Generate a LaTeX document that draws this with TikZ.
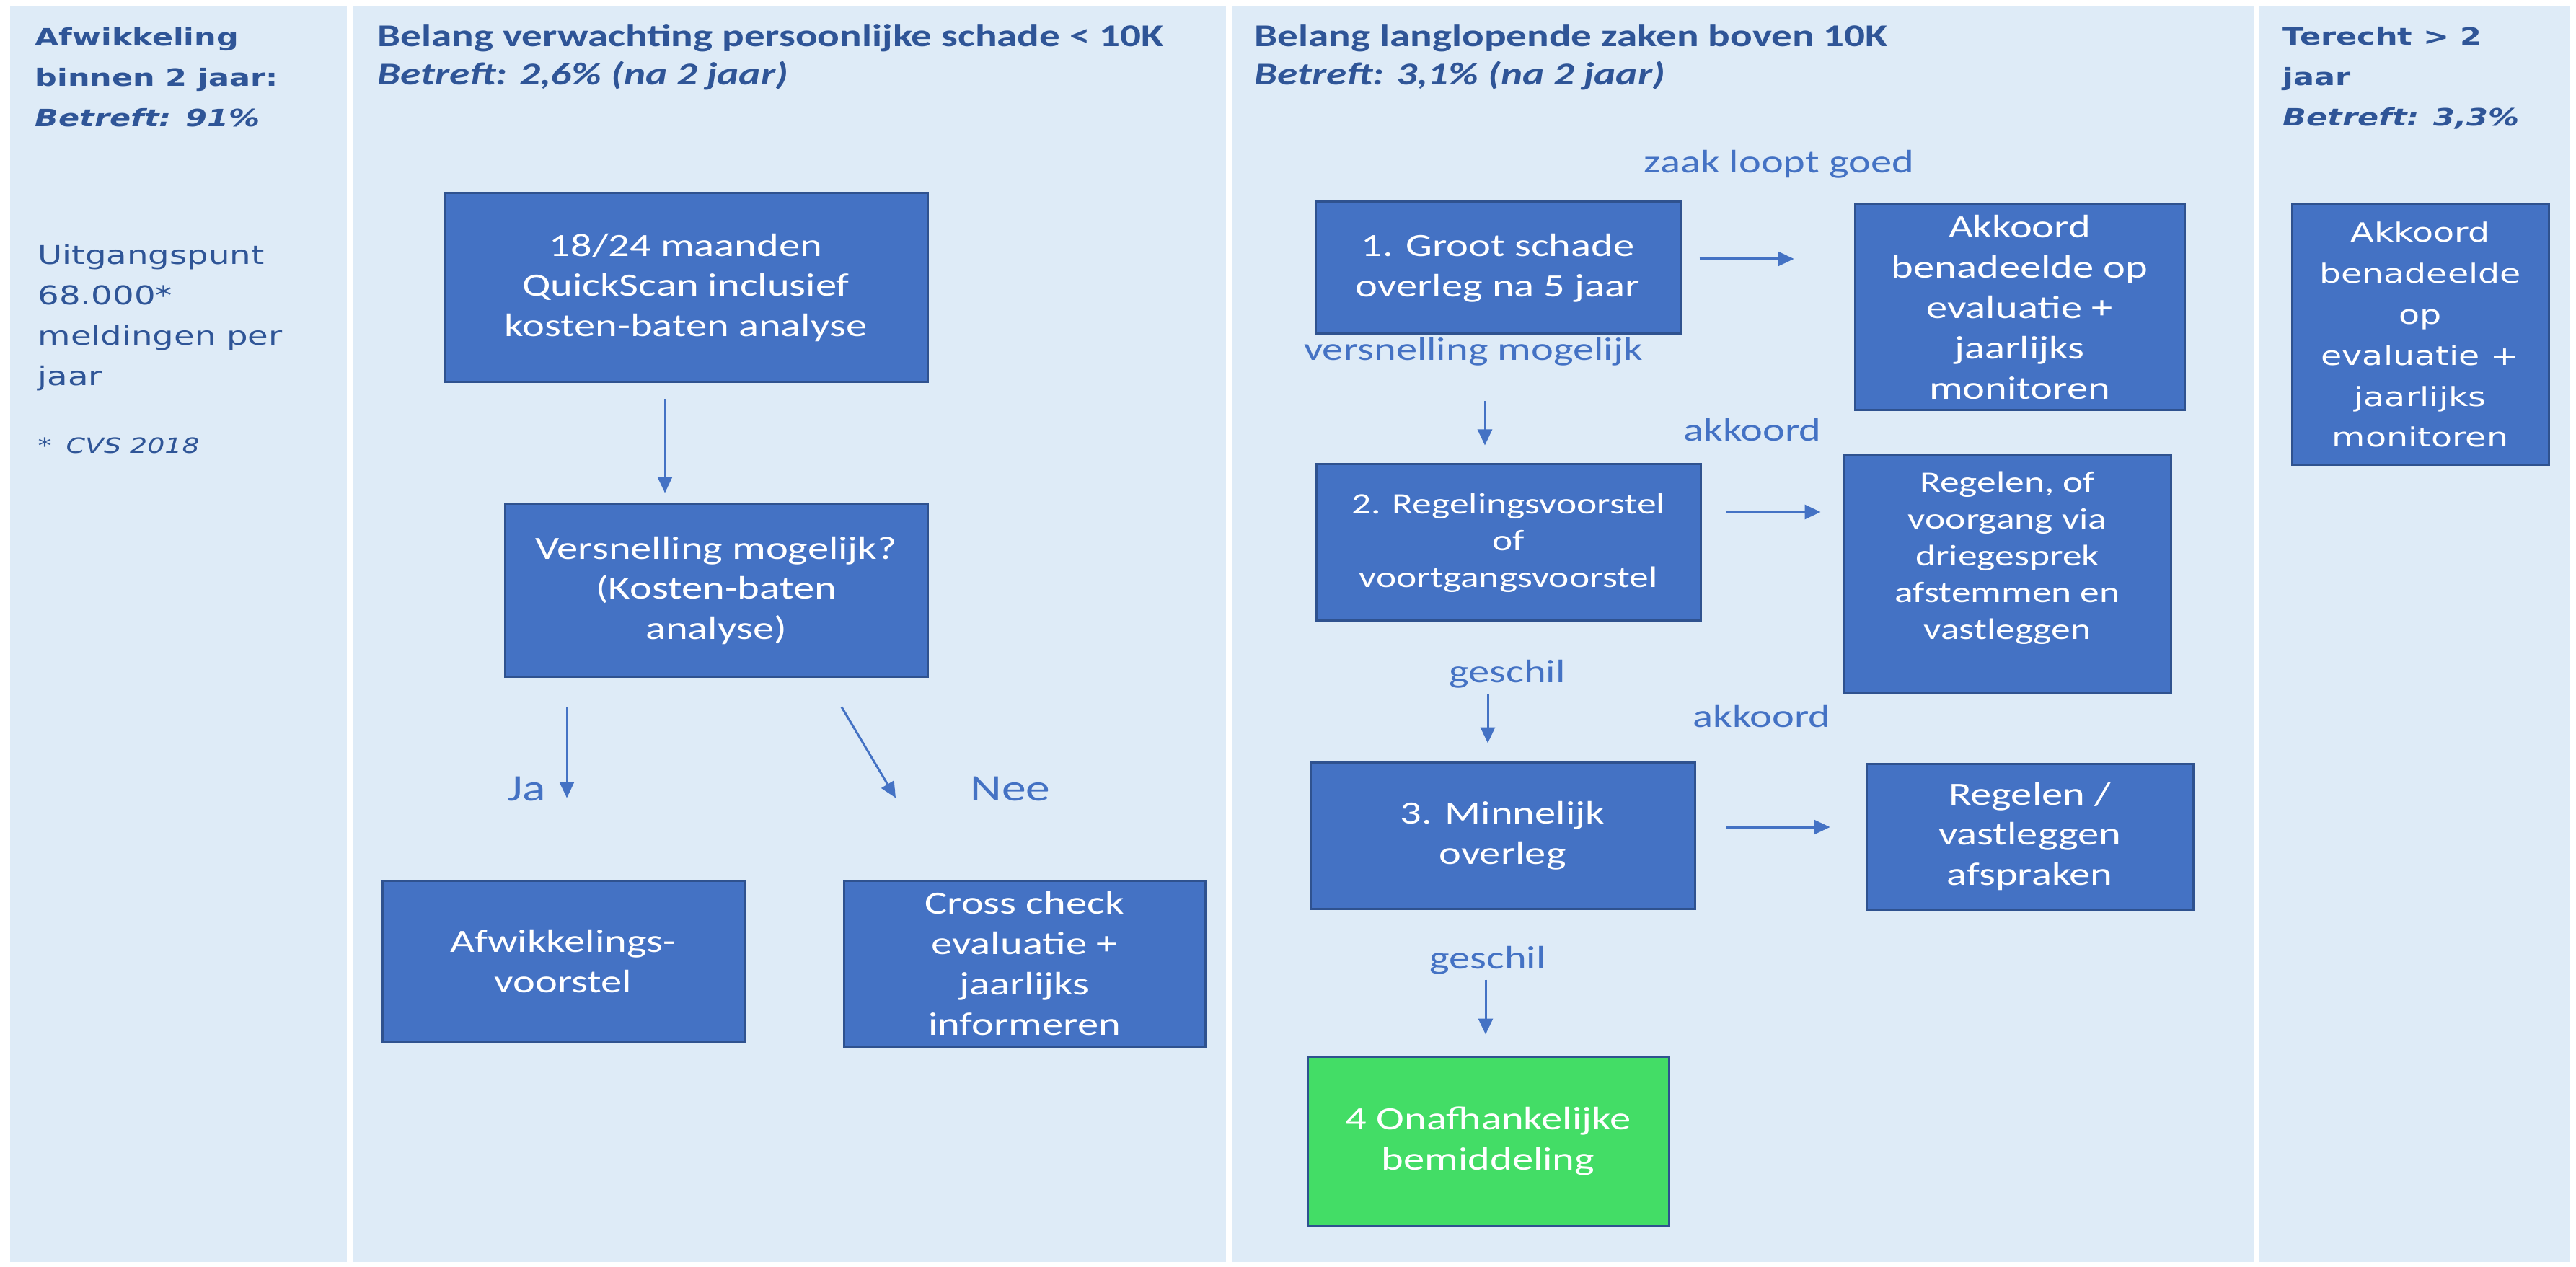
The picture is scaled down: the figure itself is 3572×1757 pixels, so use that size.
\documentclass[tikz,border=0pt]{standalone}
\usepackage{fontspec}
\setmainfont{Carlito}[FakeStretch=1.3]
\newfontfamily\verdana{DejaVu Sans}[FakeStretch=1.3]
\usetikzlibrary{arrows.meta,calc}

\begin{document}
\begin{tikzpicture}[x=0.1mm,y=-0.1mm,
    box/.style={draw=kBoxLine,line width=0.3mm,fill=kBox,text=white,align=center,
      inner sep=0pt,font=\fontsize{12.8}{15.9}\selectfont},
    smallbox/.style={box,font=\fontsize{11.7}{14.5}\selectfont},
    vbox/.style={box,font=\verdana\fontsize{10.4}{16.2}\selectfont},
    boxtxt/.style={align=center,inner sep=0pt,text=white,font=\fontsize{11.7}{14.5}\selectfont},
    head/.style={anchor=north west,align=left,inner sep=0pt,text=kHead,
      font=\bfseries\fontsize{12.5}{15.1}\selectfont},
    vhead/.style={head,font=\verdana\bfseries\fontsize{9.4}{15.9}\selectfont},
    vtext/.style={anchor=north west,align=left,inner sep=0pt,text=kHead,
      font=\verdana\fontsize{10.2}{15.9}\selectfont},
    lbl/.style={inner sep=0pt,text=kBox,font=\fontsize{12.8}{15.9}\selectfont},
    jn/.style={lbl,font=\fontsize{14.8}{17}\selectfont},
    arr/.style={draw=kBox,line width=0.3mm,-{Triangle[length=2.2mm,width=2mm]}}
  ]
  \definecolor{kPanel}{RGB}{222,235,247}
  \definecolor{kBox}{RGB}{68,114,196}
  \definecolor{kBoxLine}{RGB}{47,82,143}
  \definecolor{kHead}{RGB}{47,85,151}
  \definecolor{kGreen}{RGB}{67,221,102}

  \useasboundingbox (0,0) rectangle (3572,1757);
  \fill[white] (0,0) rectangle (3572,1757);

  % panels
  \foreach \xa/\xb in {14/481, 489/1700, 1708/3126, 3133/3564}
  {
    \fill[kPanel] (\xa,9) rectangle (\xb,1750);
  }

  % headers
  \node[vhead] (head1) at (48,38) {Afwikkeling\\binnen 2 jaar:\\\textit{Betreft: 91\%}};
  \node[head] (head2) at (523,33) {Belang verwachting persoonlijke schade < 10K\\\textit{Betreft: 2,6\% (na 2 jaar)}};
  \node[head] (head3) at (1739,33) {Belang langlopende zaken boven 10K\\\textit{Betreft: 3,1\% (na 2 jaar)}};
  \node[vhead] (head4) at (3165,37) {Terecht > 2\\jaar\\\textit{Betreft: 3,3\%}};

  % panel 1
  \node[vtext] (start) at (52,339) {Uitgangspunt\\68.000*\\meldingen per\\jaar};
  \node[vtext,anchor=west,font=\verdana\itshape\fontsize{8.3}{10}\selectfont] (cvs) at (52,618) {*\hspace{2mm}CVS 2018};

  % panel 2
  \node[box,minimum width=67mm,minimum height=26.2mm] (qscan) at (951,399)
    {18/24 maanden\\QuickScan inclusief\\kosten-baten analyse};
  \node[box,minimum width=58.6mm,minimum height=24mm] (versn) at (993,819)
    {Versnelling mogelijk?\\(Kosten-baten\\analyse)};
  \node[box,minimum width=50.2mm,minimum height=22.4mm] (afw) at (781,1333)
    {Afwikkelings-\\voorstel};
  \node[box,minimum width=50.1mm,minimum height=23mm] (cross) at (1420.5,1336)
    {Cross check\\evaluatie +\\jaarlijks\\informeren};

  \draw[arr] ($(qscan.south)+(-29,23)$) -- ($(versn.north)+(-71,-14)$);
  \draw[arr] ($(versn.south)+(-207,40)$) -- ($(afw.north)+(5,-113)$);
  \draw[arr] ($(versn.south)+(174,40)$) -- ($(cross.north)+(-178.5,-113)$);
  \node[jn] (ja) at (730,1094) {Ja};
  \node[jn] (nee) at (1401,1094) {Nee};

  % panel 3
  \node[box,minimum width=50.6mm,minimum height=18.3mm] (groot) at (2077,371.5)
    {1. Groot schade\\overleg na 5 jaar};
  \node[box,minimum width=45.7mm,minimum height=28.6mm] (akk3) at (2800.5,426)
    {Akkoord\\benadeelde op\\evaluatie +\\jaarlijks\\monitoren};
  \node[smallbox,minimum width=53.3mm,minimum height=21.7mm] (regeling) at (2091.5,752.5)
    {2. Regelingsvoorstel\\of\\voortgangsvoorstel};
  \node[smallbox,minimum width=45.3mm,minimum height=33mm] (regof) at (2783.5,796) {};
  \node[boxtxt] (regoftxt) at ($(regof.center)+(0,-22.5)$)
    {Regelen, of\\voorgang via\\driegesprek\\afstemmen en\\vastleggen};
  \node[box,minimum width=53.3mm,minimum height=20.4mm] (minnelijk) at (2083.5,1159)
    {3. Minnelijk\\overleg};
  \node[box,minimum width=45.3mm,minimum height=20.2mm] (regvast) at (2814.5,1160)
    {Regelen /\\vastleggen\\afspraken};
  \node[box,fill=kGreen,minimum width=50.1mm,minimum height=23.5mm] (bemid) at (2063.5,1582.5)
    {4 Onafhankelijke\\bemiddeling};

  \draw[arr] ($(groot.east)+(25,-12.5)$) -- ($(akk3.west)+(-83,-67)$);
  \draw[arr] ($(groot.south)+(-18,92)$) -- ($(regeling.north)+(-32.5,-25)$);
  \draw[arr] ($(regeling.east)+(34,-42.5)$) -- ($(regof.west)+(-31,-86)$);
  \draw[arr] ($(regeling.south)+(-28.5,100)$) -- ($(minnelijk.north)+(-20.5,-25)$);
  \draw[arr] ($(minnelijk.east)+(42,-12)$) -- ($(regvast.west)+(-49,-13)$);
  \draw[arr] ($(minnelijk.south)+(-23.5,96)$) -- ($(bemid.north)+(-3.5,-29)$);

  \node[lbl] (goed) at (2467,228) {zaak loopt goed};
  \node[lbl] (sneller) at (2043,488) {versnelling mogelijk};
  \node[lbl] (akkoordA) at (2430,596) {akkoord};
  \node[lbl] (geschilA) at (2090,935) {geschil};
  \node[lbl] (akkoordB) at (2443,993) {akkoord};
  \node[lbl] (geschilB) at (2063,1332) {geschil};

  % panel 4
  \node[vbox,minimum width=35.6mm,minimum height=36.2mm] (akk4) at (3356,464)
    {Akkoord\\benadeelde\\op\\evaluatie +\\jaarlijks\\monitoren};
\end{tikzpicture}
\end{document}
